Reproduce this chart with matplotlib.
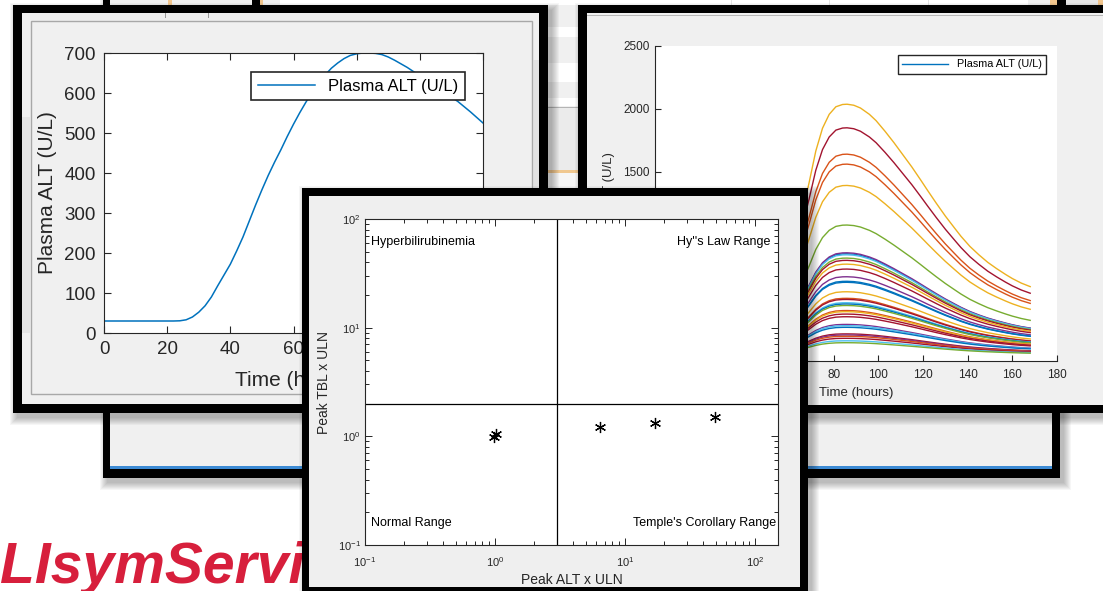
import matplotlib
matplotlib.use("Agg")
import matplotlib.pyplot as plt
from matplotlib.patches import Rectangle
from matplotlib.ticker import LogLocator, NullFormatter, MultipleLocator

plt.rcParams['font.family'] = ['Liberation Sans', 'DejaVu Sans']
plt.rcParams['mathtext.fontset'] = 'custom'
plt.rcParams['mathtext.rm'] = 'Liberation Sans'
plt.rcParams['mathtext.it'] = 'Liberation Sans:italic'
plt.rcParams['mathtext.bf'] = 'Liberation Sans:bold'

# ---------------- data ----------------
# Panel A: single simulated plasma ALT time course
a_time = [0, 10, 20, 22, 24, 26, 28, 30, 32, 34, 36, 38, 40, 42, 44, 46, 48, 50, 52, 54,
          56, 58, 60, 62, 64, 66, 68, 70, 72, 74, 76, 78, 80, 82, 84, 86, 88, 90, 92, 96,
          100, 104, 108, 112, 116, 120]
a_alt = [30, 30, 30, 30, 30.5, 33, 40, 52, 68, 90, 118, 145, 172, 205, 240, 280, 320, 358,
         394, 427, 458, 491, 522, 551, 578, 602, 624, 645, 662, 675, 686, 694, 698, 700,
         700, 699, 696, 690, 682, 664, 643, 621, 600, 579, 553, 525]

# Panel B: simulated population (shape, peaks read per curve)
b_time = [0, 30, 36, 42, 48, 54, 60, 65, 69, 72, 75, 78, 81, 84, 86, 89, 92, 96,
          99, 103, 107, 111, 115, 119, 122, 126, 130, 134, 137, 141, 145, 149, 153, 157,
          160, 164, 168]
b_shape = [0, 0, 0.01, 0.035, 0.09, 0.19, 0.36, 0.53, 0.69, 0.815, 0.905, 0.96, 0.99, 0.999,
           1.0, 0.996, 0.985, 0.96, 0.935, 0.893, 0.848, 0.800, 0.752, 0.700, 0.660, 0.608,
           0.558, 0.512, 0.478, 0.438, 0.405, 0.375, 0.350, 0.327, 0.311, 0.293, 0.279]
b_baseline = 30
b_peaks = [850, 2036, 1849, 1640, 1561, 1392, 1078, 858, 842, 816, 798, 768, 729, 668,
           632, 624, 549, 497, 488, 462, 452, 440, 400, 391, 372, 351, 290, 280, 267,
           215, 206, 196, 180, 160, 145]
b_colors = ['#0072BD', '#EDB120', '#A2142F', '#D95319', '#D95319', '#EDB120', '#77AC30',
            '#7E2F8E', '#4DBEEE', '#77AC30', '#A2142F', '#EDB120', '#A2142F', '#7E2F8E',
            '#0072BD', '#0072BD', '#EDB120', '#D95319', '#A2142F', '#4DBEEE', '#0072BD',
            '#77AC30', '#D95319', '#EDB120', '#A2142F', '#A2142F', '#7E2F8E', '#4DBEEE',
            '#0072BD', '#A2142F', '#7E2F8E', '#D95319', '#A2142F', '#4DBEEE', '#77AC30']

# Panel C: eDISH plot
c_peak_alt = [0.99, 1.02, 6.4, 17.0, 49.4]
c_peak_tbl = [0.99, 1.05, 1.23, 1.33, 1.50]
c_alt_limit = 3
c_tbl_limit = 2
c_labels = ['Hyperbilirubinemia', "Hy''s Law Range", 'Normal Range', "Temple's Corollary Range"]

# ---------------- layout helpers ----------------
W, H = 1103, 591
fig = plt.figure(figsize=(W / 100, H / 100), dpi=100)
fig.patch.set_facecolor('white')


def frac(x0, y0, x1, y1):
    return [x0 / W, 1 - y1 / H, (x1 - x0) / W, (y1 - y0) / H]


def layer(z):
    ax = fig.add_axes([0, 0, 1, 1], zorder=z)
    ax.set_xlim(0, W)
    ax.set_ylim(H, 0)
    ax.axis('off')
    ax.patch.set_alpha(0)
    return ax


def box(ax, x0, y0, x1, y1, color, z=1, **kw):
    ax.add_patch(Rectangle((x0, y0), x1 - x0, y1 - y0, facecolor=color,
                           edgecolor='none', zorder=z, **kw))


def shadow(ax, x0, y0, x1, y1, z, off=(4, 5), n=8, a=0.035):
    for i in range(n):
        box(ax, x0 + off[0] - i, y0 + off[1] - i, x1 + off[0] + i, y1 + off[1] + i,
            'black', z=z, alpha=a)


GRAY = '#f0f0f0'
AXC = '#262626'

bg = layer(0)

# ---- back window (D) ----
shadow(bg, 103, -10, 1060, 478, 1)
box(bg, 103, -10, 1060, 478, 'black', 2)
box(bg, 110, -10, 1052, 469, GRAY, 3)
box(bg, 110, 466, 1052, 469, '#3d8bd4', 4)
# bits of the windows peeking out at the very top
box(bg, 168, -10, 172, 5, '#f2c68e', 4)
box(bg, 252, -10, 260, 5, 'black', 4)
box(bg, 260, -10, 263, 5, '#f2c68e', 4)
box(bg, 280, -10, 1028, 5, 'white', 4)
for xv in (731, 829, 928):
    box(bg, xv, -10, xv + 1, 5, '#e4e4e4', 4)
box(bg, 1050, -10, 1057, 5, '#f2c68e', 4)
box(bg, 1060, -10, 1066, 5, 'black', 4)
box(bg, 1066, -10, 1098, 5, '#e6e6e6', 4)
box(bg, 1098, -10, 1103, 5, '#f2c68e', 4)
# strip of window D visible between A and B
for (y0, y1, c) in [(27, 37, 'white'), (63, 82, 'white'), (98, 106, 'white'),
                    (106.5, 108, '#b4b4b4'), (108, 170, '#ebebeb'),
                    (170, 172.5, '#f0c890'), (172.5, 188, '#f6f6f6')]:
    box(bg, 540, y0, 590, y1, c, 4)

# logo (only the part that shows left of the front window)
bg.text(0, 583, 'LIsymServi', fontsize=41, fontweight='bold', fontstyle='italic',
        color='#d71f3c', ha='left', va='baseline', zorder=4)

# ---- window A frame ----
shadow(bg, 13, 5, 548, 413, 5)
box(bg, 13, 5, 548, 413, 'black', 6)
box(bg, 22, 13, 539, 404, GRAY, 7)
bg.add_patch(Rectangle((31, 21), 501, 373, facecolor='none', edgecolor='#a8a8a8',
                       lw=1, zorder=8))
box(bg, 22, 117, 30, 333, '#dcdcdc', 8, alpha=0.6)
box(bg, 533, 60, 539, 404, '#d8d8d8', 8, alpha=0.6)
for xv in (165, 208):
    box(bg, xv, 13, xv + 1, 18, '#9a9a9a', 8)

# ---- window B frame ----
shadow(bg, 578, 5, 1110, 413, 5)
box(bg, 578, 5, 1110, 413, 'black', 6)
box(bg, 587, 13, 1110, 405, GRAY, 7)
box(bg, 587, 14.5, 1110, 16, '#b8b8b8', 8)

# ---------------- panel A axes ----------------
axA = fig.add_axes(frac(104, 53, 483, 333), zorder=2)
axA.plot(a_time, a_alt, color='#0072BD', lw=1.1, label='Plasma ALT (U/L)')
axA.set_xlim(0, 120)
axA.set_ylim(0, 700)
axA.xaxis.set_major_locator(MultipleLocator(20))
axA.yaxis.set_major_locator(MultipleLocator(100))
axA.tick_params(direction='in', length=5, width=0.8, top=True, right=True,
                labelsize=13.5, colors=AXC, pad=6)
for s in axA.spines.values():
    s.set_color(AXC)
    s.set_linewidth(0.8)
axA.set_xlabel('Time (hours)', fontsize=15, color=AXC)
axA.set_ylabel('Plasma ALT (U/L)', fontsize=15, color=AXC)
axA.xaxis.set_label_coords(0.5, -0.171)
axA.yaxis.set_label_coords(-0.150, 0.5)
axA.xaxis.label.set_va('center')
axA.yaxis.label.set_va('center')
legA = axA.legend(loc='upper right', bbox_to_anchor=(0.9525, 0.932), borderaxespad=0,
                  fancybox=False, edgecolor=AXC, fontsize=12, handlelength=3.4,
                  framealpha=1)
legA.get_frame().set_linewidth(1.2)

# ---------------- panel B axes ----------------
axB = fig.add_axes(frac(655, 45.7, 1057, 361), zorder=2)
handles = []
for pk, col in zip(b_peaks, b_colors):
    yv = [b_baseline + (pk - b_baseline) * s for s in b_shape]
    ln, = axB.plot(b_time, yv, color=col, lw=1.0)
    handles.append(ln)
axB.set_xlim(0, 180)
axB.set_ylim(0, 2500)
axB.xaxis.set_major_locator(MultipleLocator(20))
axB.yaxis.set_major_locator(MultipleLocator(500))
axB.spines['top'].set_visible(False)
axB.spines['right'].set_visible(False)
for s in ('left', 'bottom'):
    axB.spines[s].set_color(AXC)
    axB.spines[s].set_linewidth(0.8)
axB.tick_params(direction='in', length=4, width=0.8, labelsize=8.5, colors=AXC)
axB.tick_params(axis='x', pad=6)
axB.tick_params(axis='y', pad=4)
axB.set_xlabel('Time (hours)', fontsize=9.5, color=AXC)
axB.set_ylabel('Plasma ALT (U/L)', fontsize=9.5, color=AXC)
axB.xaxis.set_label_coords(0.5, -0.1015)
axB.yaxis.set_label_coords(-0.1145, 0.5)
axB.xaxis.label.set_va('center')
axB.yaxis.label.set_va('center')
legB = axB.legend([handles[0]], ['Plasma ALT (U/L)'], loc='upper right',
                  bbox_to_anchor=(0.9734, 0.9705), borderaxespad=0, fancybox=False,
                  edgecolor=AXC, fontsize=7.8, handlelength=4.3, framealpha=1)
legB.get_frame().set_linewidth(1.0)

# ---------------- window C (front) ----------------
front = layer(3)
shadow(front, 302, 188, 808, 600, 1)
box(front, 302, 188, 808, 600, 'black', 2)
box(front, 309, 196, 800, 587, '#efefef', 3)

axC = fig.add_axes(frac(365, 219, 778, 545), zorder=4)
axC.set_xscale('log')
axC.set_yscale('log')
axC.set_xlim(0.1, 150)
axC.set_ylim(0.1, 100)
axC.axvline(c_alt_limit, color='black', lw=0.9)
axC.axhline(c_tbl_limit, color='black', lw=0.9)
axC.plot(c_peak_alt, c_peak_tbl, linestyle='none', marker=(6, 2, 0), ms=8,
         mew=0.9, color='black')
axC.xaxis.set_major_locator(LogLocator(base=10, numticks=10))
axC.yaxis.set_major_locator(LogLocator(base=10, numticks=10))
axC.xaxis.set_minor_locator(LogLocator(base=10, subs=range(2, 10), numticks=20))
axC.yaxis.set_minor_locator(LogLocator(base=10, subs=range(2, 10), numticks=20))
axC.xaxis.set_minor_formatter(NullFormatter())
axC.yaxis.set_minor_formatter(NullFormatter())
axC.tick_params(which='both', direction='in', top=True, right=True, colors=AXC,
                labelsize=8, width=0.7)
axC.tick_params(which='major', length=5)
axC.tick_params(which='minor', length=3)
axC.tick_params(axis='x', pad=7)
axC.tick_params(axis='y', pad=3)
for s in axC.spines.values():
    s.set_color(AXC)
    s.set_linewidth(0.8)
axC.set_xlabel('Peak ALT x ULN', fontsize=10, color=AXC)
axC.set_ylabel('Peak TBL x ULN', fontsize=10, color=AXC)
axC.xaxis.set_label_coords(0.5, -0.107)
axC.yaxis.set_label_coords(-0.0993, 0.5)
axC.xaxis.label.set_va('center')
axC.yaxis.label.set_va('center')
kw = dict(transform=axC.transAxes, fontsize=9, color='black', va='center')
axC.text(0.0145, 0.929, c_labels[0], ha='left', **kw)
axC.text(0.982, 0.929, c_labels[1], ha='right', **kw)
axC.text(0.0145, 0.0675, c_labels[2], ha='left', **kw)
axC.text(0.995, 0.0675, c_labels[3], ha='right', **kw)

fig.savefig('out.png', dpi=100, facecolor='white')
